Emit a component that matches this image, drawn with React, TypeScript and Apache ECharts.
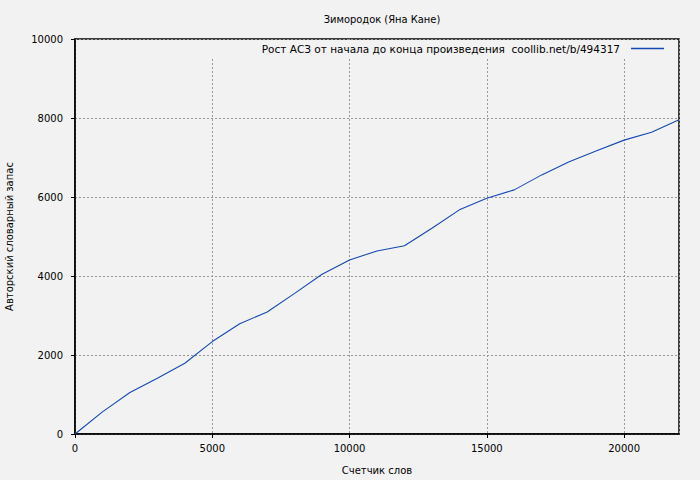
import React, { useEffect, useRef } from "react";
import * as echarts from "echarts";

const title = "Зимородок (Яна Кане)";
const seriesName = "Рост АСЗ от начала до конца произведения  coollib.net/b/494317";
const xName = "Счетчик слов";
const yName = "Авторский словарный запас";

const words = [0, 1000, 2000, 3000, 4000, 5000, 6000, 7000, 8000, 9000, 10000, 11000, 12000, 13000, 14000, 15000, 16000, 17000, 18000, 19000, 20000, 21000, 22000];
const vocab = [0, 560, 1050, 1410, 1790, 2340, 2790, 3090, 3560, 4045, 4405, 4635, 4765, 5210, 5675, 5970, 6180, 6560, 6890, 7170, 7440, 7640, 7955];

export default function App() {
  const ref = useRef<HTMLDivElement>(null);
  useEffect(() => {
    if (!ref.current) return;
    const chart = echarts.init(ref.current, undefined, { renderer: "svg" });
    const font = "DejaVu Sans";
    const fmt = (v: number) => String(v);
    chart.setOption({
      animation: false,
      backgroundColor: "#f2f2f2",
      title: {
        text: title,
        left: 377,
        textAlign: "center",
        top: 9,
        textStyle: { fontFamily: "DejaVu Sans Condensed", fontSize: 11, fontWeight: "normal", color: "#000" },
      },
      legend: {
        show: true,
        right: 26,
        top: 40,
        align: "right",
        icon: "rect",
        itemWidth: 33,
        itemHeight: 1.5,
        itemGap: 0,
        padding: [3, 10, 4, 50],
        backgroundColor: "#f2f2f2",
        textStyle: { fontFamily: font, fontSize: 10.5, color: "#000", padding: [0, 6, 0, 0] },
        data: [{ name: seriesName }],
      },
      grid: {
        left: 75, right: 21, top: 39, bottom: 46,
        containLabel: false,
        outerBoundsMode: "none",
        show: true, borderColor: "#000", borderWidth: 1.5, backgroundColor: "transparent",
      },
      xAxis: {
        type: "value",
        min: 0,
        max: 22000,
        interval: 5000,
        name: xName,
        nameLocation: "middle",
        nameGap: 31,
        nameTextStyle: { fontFamily: font, fontSize: 10, color: "#000" },
        axisLine: { show: true, onZero: false, lineStyle: { color: "#000", width: 1.5 } },
        axisTick: { show: true, length: 4, lineStyle: { color: "#000" } },
        axisLabel: { fontFamily: font, fontSize: 10, color: "#000", margin: 9, showMaxLabel: false, formatter: fmt },
        splitLine: { show: true, lineStyle: { color: "#999", type: [2, 2], width: 1 } },
      },
      yAxis: {
        type: "value",
        min: 0,
        max: 10000,
        interval: 2000,
        name: yName,
        nameLocation: "middle",
        nameGap: 61,
        nameTextStyle: { fontFamily: font, fontSize: 10, color: "#000" },
        axisLine: { show: true, lineStyle: { color: "#000", width: 1.5 } },
        axisTick: { show: true, length: 4, lineStyle: { color: "#000" } },
        axisLabel: { fontFamily: font, fontSize: 10, color: "#000", margin: 12, formatter: fmt },
        splitLine: { show: true, lineStyle: { color: "#999", type: [2, 2], width: 1 } },
      },
      series: [
        {
          name: seriesName,
          type: "line",
          data: words.map((w, i) => [w, vocab[i]]),
          symbol: "none",
          lineStyle: { color: "#1447b4", width: 1.1 },
          itemStyle: { color: "#1447b4" },
        },
      ],
    });
    return () => chart.dispose();
  }, []);
  return <div ref={ref} style={{ width: 700, height: 480, position: "absolute", left: 0, top: 0 }} />;
}
